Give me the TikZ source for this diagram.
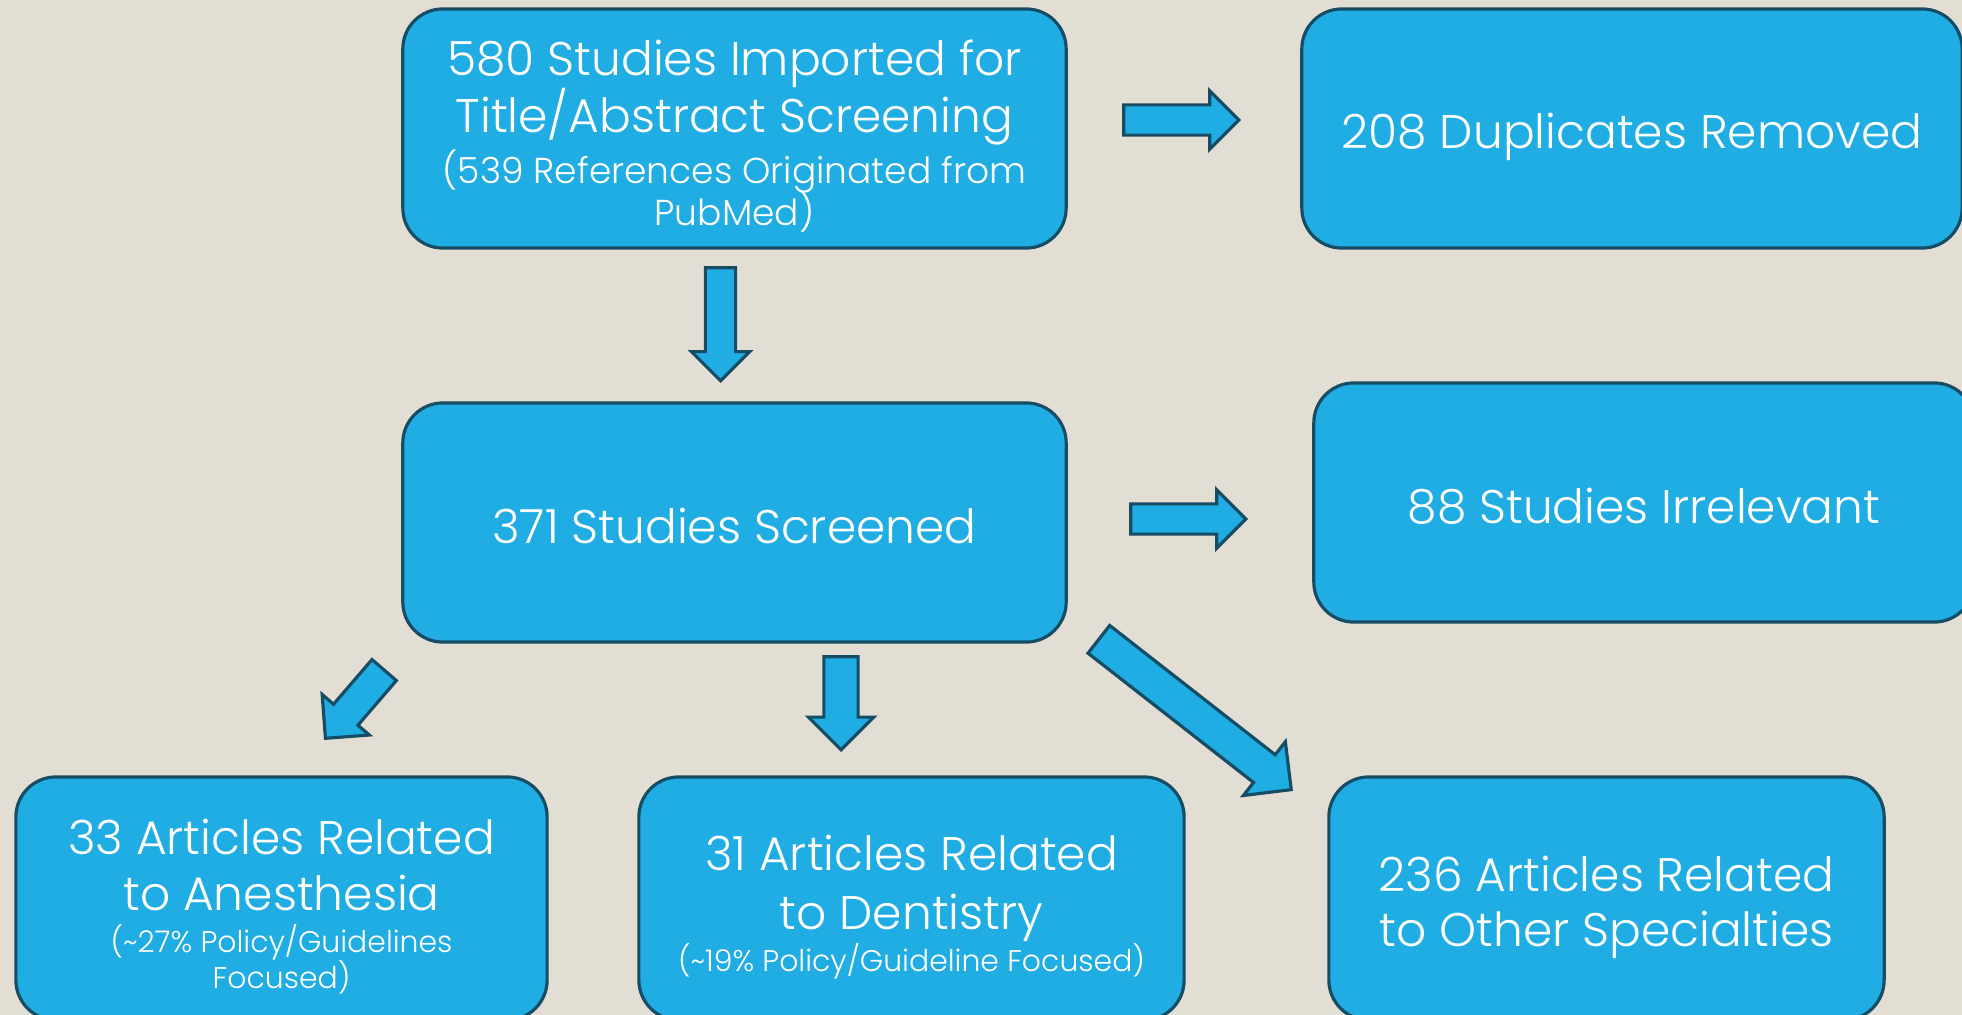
\documentclass[tikz,border=0pt]{standalone}
\usepackage{fontspec}
\setmainfont{Poppins}[UprightFont=* Light]
\usetikzlibrary{shapes.arrows}

\definecolor{bgbeige}{RGB}{227,222,211}
\definecolor{boxblue}{RGB}{31,173,227}
\definecolor{boxedge}{RGB}{22,76,100}

\newcommand{\boxfont}{\fontsize{13.4}{16.2}\selectfont\lineskiplimit=-20pt\relax}
\newcommand{\subtext}{\fontsize{10.25}{12.5}\selectfont}
\newcommand{\tinytext}{\fontsize{8.5}{10.5}\selectfont}
\newcommand{\topline}{\rule{0pt}{15pt}}
\newcommand{\oneline}{\rule[-3.3pt]{0pt}{18.3pt}}
\newcommand{\subend}{\rule[-2.6pt]{0pt}{0pt}}
\newcommand{\tinyend}{\rule[-2.1pt]{0pt}{0pt}}

\begin{document}
\begin{tikzpicture}[x=0.01cm, y=-0.01cm,
    box/.style={draw=boxedge, line width=0.9pt, fill=boxblue, rounded corners=0.4cm,
        text=white, align=center, inner sep=0pt, minimum height=2.39cm, font=\boxfont},
    blockarrow/.style={single arrow, draw=boxedge, line width=0.9pt, fill=boxblue,
        inner sep=0.135cm, single arrow head extend=0.14cm, anchor=tip}]
    \useasboundingbox[fill=bgbeige] (0,0) rectangle (1962,1015);

    \node[box, minimum width=6.63cm] (imported) at (734.5,128.5)
        {\topline 580 Studies Imported for\\ Title/Abstract Screening\\[-1.6pt]
         {\subtext (539 References Originated from}\\[-4.2pt] {\subtext PubMed)\subend}};
    \node[box, minimum width=6.60cm] (duplicates) at (1632,128.5) {\oneline 208 Duplicates Removed};
    \node[box, minimum width=6.63cm] (screened) at (734.5,522.5) {\oneline 371 Studies Screened};
    \node[box, minimum width=6.60cm] (irrelevant) at (1644,502.5) {\oneline 88 Studies Irrelevant};
    \node[box, minimum width=5.31cm, minimum height=2.43cm] (anesthesia) at (281.5,898.5)
        {\topline 33 Articles Related\\ to Anesthesia\\[-4.4pt]
         {\tinytext (\textasciitilde27\% Policy/Guidelines}\\[-6pt] {\tinytext Focused)\tinyend}};
    \node[box, minimum width=5.45cm, minimum height=2.43cm] (dentistry) at (911.5,898.5)
        {\topline 31 Articles Related\\[0.6pt] to Dentistry\\[-4.4pt]
         {\tinytext (\textasciitilde19\% Policy/Guideline Focused)\tinyend}};
    \node[box, minimum width=5.55cm, minimum height=2.43cm] (other) at (1606.5,898.5)
        {\topline 236 Articles Related\\[-0.6pt] to Other Specialties\rule[-3.3pt]{0pt}{0pt}};

    \node[blockarrow, minimum height=1.15cm] (toduplicates) at (1241,120) {};
    \node[blockarrow, minimum height=1.13cm, rotate=-90] (toscreened) at (720.5,383) {};
    \node[blockarrow, minimum height=1.15cm] (toirrelevant) at (1248,519) {};
    \node[blockarrow, minimum height=0.90cm, rotate=229.3, inner sep=0.145cm,
        single arrow head extend=0.15cm] (toanesthesia) at (324,740) {};
    \node[blockarrow, minimum height=0.93cm, rotate=-90, inner sep=0.155cm,
        single arrow head extend=0.155cm] (todentistry) at (841,752) {};
    \node[blockarrow, minimum height=2.44cm, rotate=-38, inner sep=0.16cm,
        single arrow head extend=0.165cm] (toother) at (1293,791) {};
\end{tikzpicture}
\end{document}
